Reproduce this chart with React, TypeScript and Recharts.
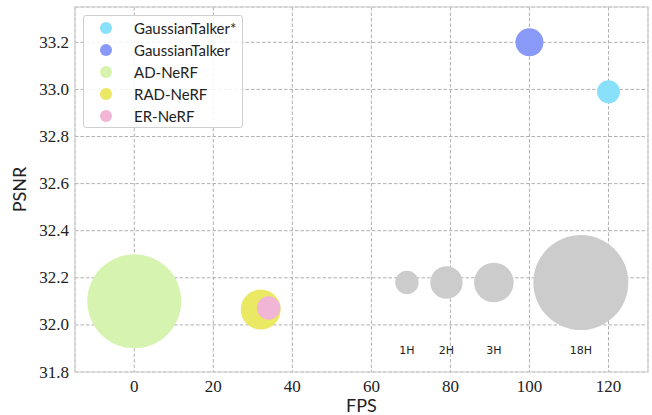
import { ScatterChart, Scatter, XAxis, YAxis, ZAxis, CartesianGrid, ReferenceArea } from "recharts";

// methods (legend order)
const methods = ["GaussianTalker*", "GaussianTalker", "AD-NeRF", "RAD-NeRF", "ER-NeRF"];
const methodFps = [120, 100, 0, 32, 34];
const methodPsnr = [32.99, 33.2, 32.1, 32.065, 32.072];
const methodSize = [132, 196, 2209, 400, 137];
const methodColors = ["#89e0fa", "#8899f8", "#d6f3b0", "#ebe864", "#f1b5d6"];

// size reference bubbles
const refLabels = ["1H", "2H", "3H", "18H"];
const refFps = [69, 79, 91, 113];
const refPsnr = 32.18;
const refSize = [137, 262, 392, 2256];
const refLabelPsnr = 31.89;

const xTicks = [0, 20, 40, 60, 80, 100, 120];
const yTicks = [31.8, 32.0, 32.2, 32.4, 32.6, 32.8, 33.0, 33.2];
const xMin = -15, xMax = 130, yMin = 31.8, yMax = 33.35;

const refData = refLabels.map((l, i) => ({ x: refFps[i], y: refPsnr, s: refSize[i] }));
const refLabelData = refLabels.map((l, i) => ({ x: refFps[i], y: refLabelPsnr, s: 1, label: l }));

const SERIF = '"Liberation Serif", "DejaVu Serif", "Times New Roman", Times, serif';

const xTick = (p: any) => (
  <text x={p.x} y={p.y} textAnchor="middle" dominantBaseline="hanging"
    style={{ fontFamily: SERIF, fontSize: 17 }} fill="#222">{p.payload.value}</text>
);

const yTick = (p: any) => (
  <text x={p.x} y={p.y} textAnchor="end" dominantBaseline="central"
    style={{ fontFamily: SERIF, fontSize: 17 }} fill="#222">{Number(p.payload.value).toFixed(1)}</text>
);

function LegendBox() {
  return (
    <div style={{
      position: "absolute", left: 83, top: 15, width: 160, height: 113,
      border: "1px solid #d0d0d0", borderRadius: 3, background: "rgba(255,255,255,0.85)",
      boxSizing: "border-box", paddingTop: 1, fontFamily: "Lato", fontSize: 15, color: "#222",
    }}>
      {methods.map((m, i) => (
        <div key={m} style={{ display: "flex", alignItems: "center", height: 22 }}>
          <span style={{ width: 12, height: 12, borderRadius: 6, background: methodColors[i], marginLeft: 16, marginRight: 22 }} />
          <span>{m}</span>
        </div>
      ))}
    </div>
  );
}

export default function App() {
  return (
    <div style={{ position: "absolute", left: 0, top: 0, width: 652, height: 415, background: "#fff" }}>
      <ScatterChart width={652} height={415} margin={{ top: 7, right: 4, bottom: 0, left: 10 }}>
        <XAxis type="number" dataKey="x" domain={[xMin, xMax]} ticks={xTicks} allowDataOverflow
          axisLine={false} tickLine={false} tick={xTick} tickSize={6} tickMargin={2} height={43}
          label={{ value: "FPS", position: "insideBottom", offset: 3, style: { fontFamily: "Lato", fontSize: 18, fill: "#222" } }} />
        <YAxis type="number" dataKey="y" domain={[yMin, yMax]} ticks={yTicks} allowDataOverflow
          axisLine={false} tickLine={false} tick={yTick} tickSize={6} tickMargin={0} width={65}
          label={{ value: "PSNR", angle: -90, position: "insideLeft", offset: 10, style: { textAnchor: "middle", fontFamily: "Lato", fontSize: 18, fill: "#222" } }} />
        <ZAxis type="number" dataKey="s" domain={[0, 2500]} range={[0, Math.PI * 2500]} />
        {methods.map((m, i) => (
          <Scatter key={m} name={m} data={[{ x: methodFps[i], y: methodPsnr[i], s: methodSize[i] }]}
            fill={methodColors[i]} isAnimationActive={false} />
        ))}
        <Scatter name="ref" data={refData} fill="#cccccc" isAnimationActive={false} />
        <Scatter name="refLabels" data={refLabelData} isAnimationActive={false}
          shape={(p: any) => (
            <text x={p.cx} y={p.cy} textAnchor="middle" dominantBaseline="central"
              fontFamily="DejaVu Sans" fontSize={11} fill="#222">{p.payload.label}</text>
          )} />
        <CartesianGrid stroke="#b0b0b0" strokeDasharray="3.5 2" strokeWidth={1} />
        <ReferenceArea x1={xMin} x2={xMax} y1={yMin} y2={yMax} fill="none" stroke="#d0d0d0" strokeWidth={1.2} ifOverflow="visible" />
      </ScatterChart>
      <LegendBox />
    </div>
  );
}
